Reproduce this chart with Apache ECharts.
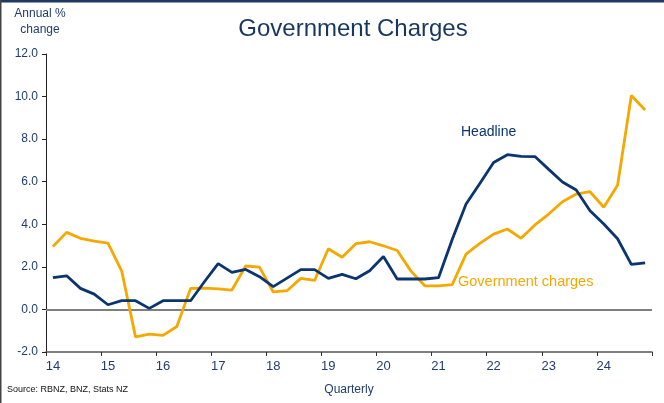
<!DOCTYPE html>
<html>
<head>
<meta charset="utf-8">
<script src="https://cdn.jsdelivr.net/npm/echarts@6/dist/echarts.min.js"></script>
<style>
html,body{margin:0;padding:0;background:#fff;}
#chart{width:664px;height:403px;}
</style>
</head>
<body>
<div id="chart"></div>
<script>
var quarters = [
 'Mar-14','Jun-14','Sep-14','Dec-14','Mar-15','Jun-15','Sep-15','Dec-15',
 'Mar-16','Jun-16','Sep-16','Dec-16','Mar-17','Jun-17','Sep-17','Dec-17',
 'Mar-18','Jun-18','Sep-18','Dec-18','Mar-19','Jun-19','Sep-19','Dec-19',
 'Mar-20','Jun-20','Sep-20','Dec-20','Mar-21','Jun-21','Sep-21','Dec-21',
 'Mar-22','Jun-22','Sep-22','Dec-22','Mar-23','Jun-23','Sep-23','Dec-23',
 'Mar-24','Jun-24','Sep-24','Dec-24'
];
var headline = [
 1.49,1.58,0.99,0.72,0.22,0.41,0.41,0.05,
 0.41,0.41,0.41,1.30,2.15,1.74,1.88,1.54,
 1.07,1.47,1.87,1.87,1.46,1.65,1.44,1.82,
 2.49,1.43,1.43,1.43,1.49,3.30,4.95,5.92,
 6.90,7.27,7.19,7.18,6.58,5.99,5.61,4.64,
 4.01,3.32,2.12,2.19
];
var govCharges = [
 2.96,3.62,3.34,3.21,3.12,1.80,-1.29,-1.16,
 -1.22,-0.80,0.99,1.00,0.97,0.91,2.04,1.99,
 0.82,0.88,1.46,1.36,2.85,2.45,3.09,3.18,
 2.99,2.77,1.80,1.11,1.11,1.17,2.60,3.10,
 3.54,3.78,3.34,3.97,4.48,5.06,5.42,5.53,
 4.80,5.83,10.05,9.37
];
var yTicks = {min:-2, max:12, step:2};

var navy = '#0A3570';
var orange = '#F5A800';
var textBlue = '#1F3D6E';
var FONT = '"Liberation Sans", Arial, sans-serif';

var chart = echarts.init(document.getElementById('chart'), null, {renderer:'canvas'});
chart.setOption({
  animation:false,
  backgroundColor:'#ffffff',
  grid:{left:46, right:12, top:54, bottom:51, containLabel:false},
  title:{
    text:'Government Charges', left:348, top:12, textAlign:'center',
    textStyle:{fontFamily:FONT, fontSize:24, fontWeight:'normal', color:'#17375E'}
  },
  xAxis:{
    type:'category', data:quarters, boundaryGap:true,
    name:'Quarterly', nameLocation:'middle', nameGap:32,
    nameTextStyle:{fontFamily:FONT, fontSize:12, color:textBlue},
    axisLine:{show:true, onZero:false, lineStyle:{color:'#555555', width:1.5}},
    axisTick:{show:true, interval:3, length:4, inside:false, lineStyle:{color:'#333333'}},
    axisLabel:{interval:3, fontFamily:FONT, fontSize:13, color:textBlue, margin:8,
      formatter:function(v){return v.slice(-2);}},
    splitLine:{show:false}
  },
  yAxis:{
    type:'value', min:yTicks.min, max:yTicks.max, interval:yTicks.step,
    axisLine:{show:true, lineStyle:{color:'#222222', width:1}},
    axisTick:{show:true, length:4, lineStyle:{color:'#222222'}},
    axisLabel:{fontFamily:FONT, fontSize:12, color:textBlue, margin:8,
      formatter:function(v){return v.toFixed(1);}},
    splitLine:{show:false}
  },
  series:[
    {
      name:'Government charges', type:'line', data:govCharges, symbol:'none',
      lineStyle:{color:orange, width:2.8}, z:3,
      markLine:{silent:true, symbol:'none', label:{show:false},
        lineStyle:{color:'#7f7f7f', width:2, type:'solid'},
        data:[{yAxis:0}], z:1}
    },
    {
      name:'Headline', type:'line', data:headline, symbol:'none',
      lineStyle:{color:navy, width:2.8}, z:4
    }
  ],
  graphic:[
    {type:'rect', shape:{x:0,y:0,width:664,height:2.5}, style:{fill:'#1F3864'}},
    {type:'rect', shape:{x:0,y:0,width:1.5,height:403}, style:{fill:'#444444'}},
    {type:'text', x:40, y:14, style:{text:'Annual %', fill:textBlue, font:'12px '+FONT, textAlign:'center', textVerticalAlign:'middle'}},
    {type:'text', x:40, y:30, style:{text:'change', fill:textBlue, font:'12px '+FONT, textAlign:'center', textVerticalAlign:'middle'}},
    {type:'text', x:461, y:132, style:{text:'Headline', fill:navy, font:'14px '+FONT, textAlign:'left', textVerticalAlign:'middle'}},
    {type:'text', x:458, y:282, style:{text:'Government charges', fill:orange, font:'14.5px '+FONT, textAlign:'left', textVerticalAlign:'middle'}},
    {type:'text', x:7, y:390, style:{text:'Source: RBNZ, BNZ, Stats NZ', fill:'#111111', font:'9px '+FONT, textAlign:'left', textVerticalAlign:'middle'}}
  ]
});
</script>
</body>
</html>
